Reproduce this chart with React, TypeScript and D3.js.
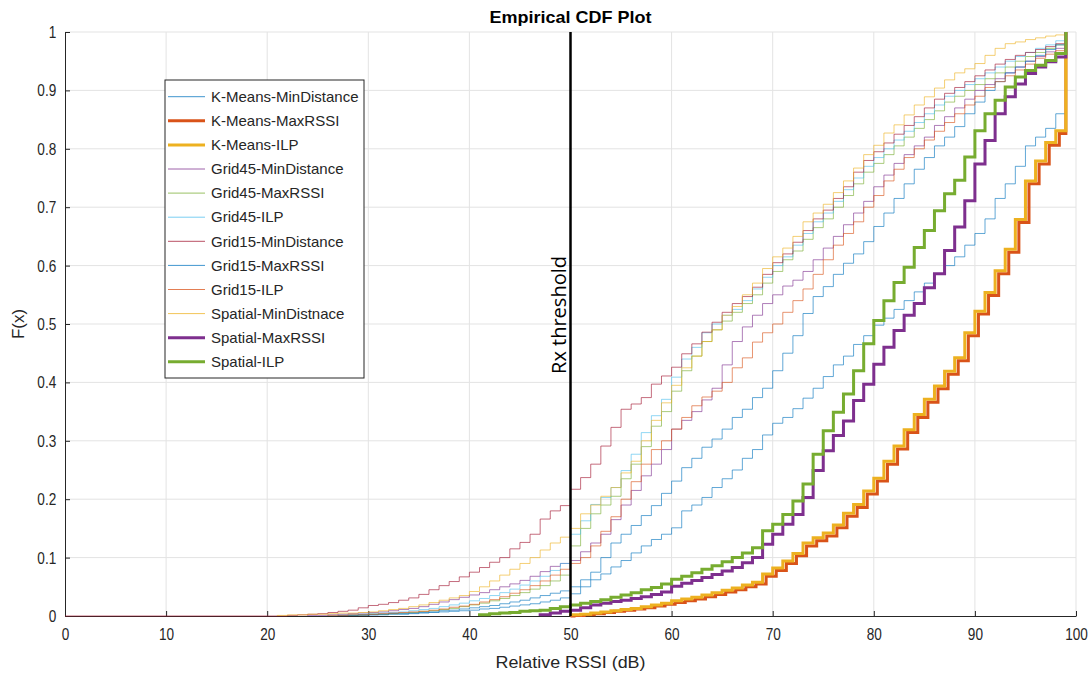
import { useEffect, useRef } from "react";
import * as d3 from "d3";

// ECDF values, one per 1 dB bin starting at the given x (value holds on [x, x+1))
const kmMinDistStart = 28;
const kmMinDist = [0.001, 0.001, 0.002, 0.002, 0.003, 0.003, 0.004, 0.005, 0.006, 0.007, 0.008, 0.009, 0.01, 0.012, 0.013, 0.015, 0.017, 0.019, 0.021, 0.024, 0.027, 0.031, 0.038, 0.05, 0.062, 0.072, 0.084, 0.095, 0.108, 0.12, 0.131, 0.14, 0.151, 0.18, 0.19, 0.203, 0.22, 0.235, 0.25, 0.27, 0.285, 0.31, 0.33, 0.34, 0.355, 0.373, 0.39, 0.41, 0.43, 0.445, 0.465, 0.48, 0.498, 0.51, 0.525, 0.54, 0.555, 0.57, 0.585, 0.6, 0.615, 0.635, 0.655, 0.68, 0.715, 0.74, 0.77, 0.805, 0.82, 0.835, 0.86];

const kmMaxRssiStart = 50.35;
const kmMaxRssi = [0.001, 0.002, 0.004, 0.006, 0.008, 0.01, 0.012, 0.014, 0.017, 0.02, 0.023, 0.026, 0.029, 0.033, 0.037, 0.041, 0.045, 0.05, 0.055, 0.068, 0.078, 0.09, 0.103, 0.12, 0.129, 0.137, 0.151, 0.171, 0.186, 0.209, 0.231, 0.26, 0.286, 0.314, 0.34, 0.366, 0.389, 0.414, 0.437, 0.48, 0.517, 0.549, 0.586, 0.623, 0.674, 0.74, 0.774, 0.806, 0.826];

const kmIlpStart = 50;
const kmIlp = [0.002, 0.003, 0.005, 0.007, 0.009, 0.011, 0.013, 0.016, 0.019, 0.022, 0.026, 0.029, 0.032, 0.036, 0.04, 0.044, 0.048, 0.053, 0.058, 0.072, 0.082, 0.094, 0.107, 0.125, 0.134, 0.142, 0.156, 0.176, 0.191, 0.214, 0.236, 0.265, 0.291, 0.319, 0.345, 0.371, 0.394, 0.419, 0.442, 0.485, 0.522, 0.554, 0.591, 0.628, 0.679, 0.745, 0.779, 0.811, 0.831];

const g45MinDistStart = 24;
const g45MinDist = [0.001, 0.001, 0.002, 0.003, 0.004, 0.005, 0.006, 0.007, 0.009, 0.011, 0.013, 0.016, 0.02, 0.024, 0.028, 0.032, 0.036, 0.04, 0.045, 0.05, 0.055, 0.061, 0.068, 0.076, 0.085, 0.09, 0.095, 0.11, 0.125, 0.14, 0.165, 0.19, 0.215, 0.24, 0.26, 0.285, 0.32, 0.335, 0.35, 0.37, 0.39, 0.43, 0.47, 0.495, 0.515, 0.535, 0.55, 0.565, 0.575, 0.59, 0.61, 0.63, 0.65, 0.67, 0.69, 0.71, 0.735, 0.755, 0.775, 0.79, 0.805, 0.82, 0.84, 0.855, 0.87, 0.885, 0.9, 0.91, 0.92, 0.93, 0.94, 0.95, 0.958, 0.966, 0.972];

const g45MaxRssiStart = 27;
const g45MaxRssi = [0.001, 0.001, 0.002, 0.003, 0.003, 0.004, 0.005, 0.006, 0.008, 0.009, 0.011, 0.013, 0.016, 0.019, 0.022, 0.026, 0.03, 0.035, 0.04, 0.046, 0.052, 0.06, 0.07, 0.12, 0.15, 0.175, 0.19, 0.205, 0.235, 0.26, 0.29, 0.325, 0.35, 0.385, 0.42, 0.445, 0.47, 0.49, 0.505, 0.52, 0.535, 0.55, 0.57, 0.59, 0.61, 0.625, 0.645, 0.665, 0.68, 0.7, 0.72, 0.74, 0.76, 0.775, 0.79, 0.805, 0.82, 0.835, 0.85, 0.865, 0.88, 0.89, 0.9, 0.91, 0.92, 0.93, 0.94, 0.95, 0.958, 0.965, 0.972, 0.978];

const g45IlpStart = 26;
const g45Ilp = [0.001, 0.001, 0.002, 0.003, 0.004, 0.005, 0.006, 0.007, 0.009, 0.011, 0.013, 0.016, 0.019, 0.022, 0.026, 0.03, 0.035, 0.04, 0.046, 0.053, 0.06, 0.068, 0.078, 0.09, 0.14, 0.163, 0.191, 0.203, 0.22, 0.249, 0.277, 0.314, 0.343, 0.371, 0.409, 0.44, 0.46, 0.485, 0.5, 0.515, 0.525, 0.54, 0.56, 0.58, 0.6, 0.615, 0.635, 0.655, 0.675, 0.69, 0.71, 0.73, 0.75, 0.77, 0.785, 0.8, 0.815, 0.83, 0.845, 0.86, 0.875, 0.89, 0.9, 0.91, 0.92, 0.93, 0.94, 0.95, 0.958, 0.965, 0.972, 0.978, 0.985];

const g15MinDistStart = 22;
const g15MinDist = [0.001, 0.002, 0.003, 0.004, 0.006, 0.008, 0.01, 0.014, 0.018, 0.02, 0.023, 0.027, 0.031, 0.037, 0.045, 0.052, 0.059, 0.067, 0.075, 0.083, 0.092, 0.1, 0.115, 0.126, 0.14, 0.166, 0.18, 0.189, 0.217, 0.237, 0.26, 0.291, 0.323, 0.354, 0.363, 0.374, 0.397, 0.411, 0.426, 0.449, 0.466, 0.486, 0.503, 0.52, 0.535, 0.547, 0.563, 0.585, 0.605, 0.62, 0.64, 0.66, 0.68, 0.695, 0.715, 0.735, 0.76, 0.78, 0.795, 0.81, 0.825, 0.84, 0.855, 0.87, 0.885, 0.895, 0.905, 0.915, 0.925, 0.935, 0.945, 0.953, 0.96, 0.965, 0.97, 0.975, 0.98];

const g15MaxRssiStart = 27;
const g15MaxRssi = [0.001, 0.001, 0.002, 0.002, 0.003, 0.004, 0.004, 0.005, 0.006, 0.007, 0.009, 0.01, 0.012, 0.014, 0.016, 0.018, 0.021, 0.024, 0.027, 0.031, 0.035, 0.039, 0.043, 0.05, 0.062, 0.075, 0.1, 0.125, 0.14, 0.155, 0.172, 0.189, 0.21, 0.231, 0.254, 0.27, 0.289, 0.303, 0.32, 0.34, 0.354, 0.374, 0.39, 0.42, 0.45, 0.48, 0.518, 0.547, 0.564, 0.585, 0.604, 0.62, 0.641, 0.667, 0.69, 0.715, 0.74, 0.765, 0.785, 0.805, 0.82, 0.838, 0.86, 0.88, 0.9, 0.915, 0.93, 0.94, 0.95, 0.96, 0.97, 0.978];

const g15IlpStart = 26;
const g15Ilp = [0.001, 0.001, 0.002, 0.002, 0.003, 0.004, 0.005, 0.006, 0.007, 0.008, 0.01, 0.012, 0.015, 0.017, 0.02, 0.024, 0.028, 0.033, 0.039, 0.045, 0.052, 0.06, 0.07, 0.08, 0.09, 0.1, 0.12, 0.145, 0.17, 0.2, 0.23, 0.26, 0.285, 0.3, 0.32, 0.34, 0.36, 0.375, 0.385, 0.4, 0.425, 0.442, 0.469, 0.485, 0.5, 0.52, 0.54, 0.56, 0.585, 0.61, 0.635, 0.655, 0.675, 0.7, 0.72, 0.745, 0.765, 0.785, 0.8, 0.815, 0.83, 0.845, 0.86, 0.875, 0.89, 0.905, 0.915, 0.925, 0.935, 0.945, 0.955, 0.962, 0.968];

const spMinDistStart = 21;
const spMinDist = [0.001, 0.002, 0.002, 0.003, 0.003, 0.004, 0.005, 0.005, 0.006, 0.007, 0.009, 0.011, 0.013, 0.016, 0.019, 0.023, 0.027, 0.031, 0.035, 0.042, 0.05, 0.06, 0.07, 0.08, 0.09, 0.1, 0.113, 0.125, 0.135, 0.15, 0.175, 0.19, 0.205, 0.22, 0.245, 0.265, 0.3, 0.335, 0.365, 0.395, 0.425, 0.445, 0.47, 0.49, 0.515, 0.53, 0.55, 0.57, 0.595, 0.615, 0.63, 0.65, 0.675, 0.69, 0.705, 0.725, 0.745, 0.767, 0.79, 0.806, 0.827, 0.841, 0.858, 0.875, 0.889, 0.904, 0.918, 0.93, 0.937, 0.946, 0.96, 0.972, 0.98, 0.983, 0.987, 0.99, 0.993, 0.995];

const spMaxRssiStart = 47;
const spMaxRssi = [0.002, 0.005, 0.008, 0.01, 0.014, 0.019, 0.022, 0.025, 0.027, 0.03, 0.033, 0.037, 0.041, 0.051, 0.056, 0.061, 0.066, 0.071, 0.077, 0.083, 0.091, 0.1, 0.123, 0.14, 0.157, 0.174, 0.203, 0.249, 0.283, 0.309, 0.334, 0.369, 0.397, 0.431, 0.46, 0.489, 0.515, 0.535, 0.562, 0.586, 0.626, 0.666, 0.711, 0.774, 0.814, 0.86, 0.889, 0.911, 0.929, 0.94, 0.949, 0.957];

const spIlpStart = 41;
const spIlp = [0.002, 0.004, 0.005, 0.006, 0.008, 0.009, 0.01, 0.013, 0.016, 0.019, 0.022, 0.025, 0.028, 0.032, 0.036, 0.04, 0.045, 0.049, 0.055, 0.063, 0.068, 0.074, 0.08, 0.086, 0.093, 0.1, 0.108, 0.117, 0.146, 0.157, 0.174, 0.197, 0.226, 0.277, 0.317, 0.349, 0.38, 0.42, 0.466, 0.506, 0.54, 0.571, 0.597, 0.631, 0.66, 0.694, 0.723, 0.746, 0.786, 0.831, 0.86, 0.883, 0.906, 0.923, 0.934, 0.943, 0.951, 0.963];

// smallest RSSI sample of each series (where its stairs begin at F = 0)
const seriesMin = [28, 50, 50, 24, 27, 26, 0, 27, 26, 21, 47, 41];

const seriesNames = ["K-Means-MinDistance", "K-Means-MaxRSSI", "K-Means-ILP", "Grid45-MinDistance", "Grid45-MaxRSSI", "Grid45-ILP", "Grid15-MinDistance", "Grid15-MaxRSSI", "Grid15-ILP", "Spatial-MinDistnace", "Spatial-MaxRSSI", "Spatial-ILP"];
const seriesValues = [kmMinDist, kmMaxRssi, kmIlp, g45MinDist, g45MaxRssi, g45Ilp, g15MinDist, g15MaxRssi, g15Ilp, spMinDist, spMaxRssi, spIlp];
const seriesStarts = [kmMinDistStart, kmMaxRssiStart, kmIlpStart, g45MinDistStart, g45MaxRssiStart, g45IlpStart, g15MinDistStart, g15MaxRssiStart, g15IlpStart, spMinDistStart, spMaxRssiStart, spIlpStart];
const seriesColors = ["#0072BD", "#D95319", "#EDB120", "#7E2F8E", "#77AC30", "#4DBEEE", "#A2142F", "#0072BD", "#D95319", "#EDB120", "#7E2F8E", "#77AC30"];
const seriesThick = [false, true, true, false, false, false, false, false, false, false, true, true];

const maxRssi = 99;
const threshold = 50;
const xTicks = [0, 10, 20, 30, 40, 50, 60, 70, 80, 90, 100];
const yTicks = [0, 0.1, 0.2, 0.3, 0.4, 0.5, 0.6, 0.7, 0.8, 0.9, 1];

const W = 1091;
const H = 677;
const M = { left: 65, right: 15, top: 32, bottom: 61 };
const TXT = "#262626";

export default function App() {
  const svgRef = useRef<SVGSVGElement>(null);

  useEffect(() => {
    const svg = d3.select(svgRef.current);
    svg.selectAll("*").remove();

    const x = d3.scaleLinear().domain([0, 100]).range([M.left, W - M.right]);
    const y = d3.scaleLinear().domain([0, 1]).range([H - M.bottom, M.top]);

    svg.append("rect").attr("width", W).attr("height", H).attr("fill", "#fff");

    // grid
    const grid = svg.append("g");
    grid.selectAll(".gx").data(xTicks.slice(1)).enter().append("line")
      .attr("x1", (d) => x(d)).attr("x2", (d) => x(d))
      .attr("y1", y(0)).attr("y2", y(1))
      .attr("stroke", "#e3e3e3").attr("stroke-width", 1);
    grid.selectAll(".gy").data(yTicks.slice(1)).enter().append("line")
      .attr("x1", x(0)).attr("x2", x(100))
      .attr("y1", (d) => y(d)).attr("y2", (d) => y(d))
      .attr("stroke", "#e3e3e3").attr("stroke-width", 1);

    // axes (under the curves, as in the original)
    const xAxis = svg.append("g")
      .attr("transform", `translate(0,${y(0)})`)
      .call(d3.axisBottom(x).tickValues(xTicks).tickSizeInner(-5).tickSizeOuter(0).tickPadding(12));
    const yAxis = svg.append("g")
      .attr("transform", `translate(${x(0)},0)`)
      .call(d3.axisLeft(y).tickValues(yTicks).tickFormat((d) => `${+d}`).tickSizeInner(-5).tickSizeOuter(0).tickPadding(11));
    [xAxis, yAxis].forEach((a) => {
      a.select(".domain").attr("stroke", TXT);
      a.selectAll(".tick line").attr("stroke", TXT);
      a.selectAll("text").attr("fill", TXT).attr("font-size", 17).attr("font-family", "Liberation Sans")
        .attr("transform", "scale(0.8,1)");
    });

    // curves
    const line = d3.line<[number, number]>()
      .x((d) => x(d[0]))
      .y((d) => y(d[1]))
      .curve(d3.curveStepAfter);

    const curves = svg.append("g").attr("fill", "none");
    seriesValues.forEach((vals, i) => {
      const pts: [number, number][] = [[seriesMin[i], 0]];
      vals.forEach((v, k) => pts.push([seriesStarts[i] + k, v]));
      pts.push([maxRssi, 1]);
      curves.append("path")
        .attr("d", line(pts))
        .attr("stroke", seriesColors[i])
        .attr("stroke-width", seriesThick[i] ? 3 : 1)
        .attr("stroke-opacity", seriesThick[i] ? 1 : 0.62);
    });

    // threshold
    svg.append("line")
      .attr("x1", x(threshold)).attr("x2", x(threshold))
      .attr("y1", y(0)).attr("y2", y(1))
      .attr("stroke", "#000").attr("stroke-width", 2.5);
    svg.append("text")
      .attr("transform", `translate(${x(threshold) - 5},${y(0.5) - 9}) rotate(-90)`)
      .attr("text-anchor", "middle")
      .attr("font-family", "Open Sans")
      .attr("font-size", 20)
      .attr("fill", "#000")
      .text("Rx threshold");

    svg.append("text")
      .attr("x", x(50)).attr("y", 668)
      .attr("text-anchor", "middle")
      .attr("font-family", "Liberation Sans").attr("font-size", 17).attr("fill", TXT)
      .attr("textLength", 150).attr("lengthAdjust", "spacingAndGlyphs")
      .text("Relative RSSI (dB)");
    svg.append("text")
      .attr("transform", `translate(24,${y(0.5)}) rotate(-90)`)
      .attr("text-anchor", "middle")
      .attr("font-family", "Liberation Sans").attr("font-size", 17).attr("fill", TXT)
      .text("F(x)");
    svg.append("text")
      .attr("x", x(50)).attr("y", 23)
      .attr("text-anchor", "middle")
      .attr("font-family", "Liberation Sans").attr("font-weight", "bold").attr("font-size", 17).attr("fill", "#000")
      .attr("textLength", 162).attr("lengthAdjust", "spacingAndGlyphs")
      .text("Empirical CDF Plot");

    // legend
    const lg = svg.append("g").attr("transform", "translate(165,80)");
    lg.append("rect").attr("width", 199).attr("height", 298)
      .attr("fill", "#fff").attr("stroke", TXT).attr("stroke-width", 1);
    seriesNames.forEach((name, i) => {
      const yy = 16.7 + i * 24.1;
      lg.append("line").attr("x1", 3).attr("x2", 40).attr("y1", yy).attr("y2", yy)
        .attr("stroke", seriesColors[i]).attr("stroke-width", seriesThick[i] ? 3 : 1)
        .attr("stroke-opacity", seriesThick[i] ? 1 : 0.75);
      lg.append("text").attr("x", 46).attr("y", yy).attr("dy", "0.35em")
        .attr("font-family", "Liberation Sans").attr("font-size", 15).attr("fill", TXT)
        .text(name);
    });
  }, []);

  return <svg ref={svgRef} width={W} height={H} style={{ position: "absolute", left: 0, top: 0 }} />;
}
